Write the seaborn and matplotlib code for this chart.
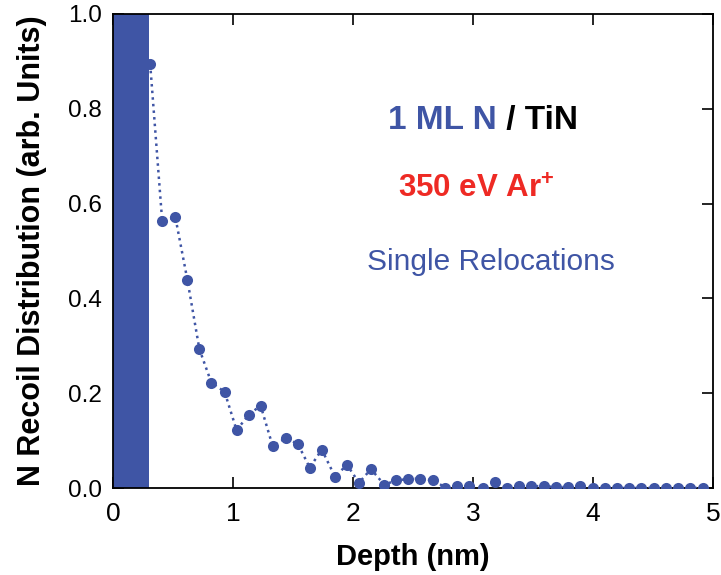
import matplotlib
matplotlib.use("Agg")
import matplotlib.pyplot as plt
import seaborn as sns
import pandas as pd

# Recoil depth grid (nm) and relocated-N distribution
depth = [0.31, 0.41, 0.52, 0.62, 0.72, 0.82, 0.93, 1.03, 1.13, 1.23,
         1.33, 1.44, 1.54, 1.64, 1.74, 1.85, 1.95, 2.05, 2.15, 2.26,
         2.36, 2.46, 2.56, 2.67, 2.77, 2.87, 2.97, 3.08, 3.18, 3.28,
         3.38, 3.48, 3.59, 3.69, 3.79, 3.89, 4.00, 4.10, 4.20, 4.30,
         4.40, 4.51, 4.61, 4.71, 4.81, 4.92]
recoil = [0.894, 0.563, 0.571, 0.439, 0.293, 0.222, 0.203, 0.122, 0.154, 0.174,
          0.089, 0.105, 0.093, 0.043, 0.081, 0.024, 0.049, 0.011, 0.040, 0.007,
          0.016, 0.019, 0.020, 0.016, 0.001, 0.004, 0.004, 0.001, 0.012, 0.000,
          0.004, 0.004, 0.004, 0.002, 0.002, 0.005, 0.000, 0.000, 0.000, 0.000,
          0.000, 0.000, 0.000, 0.000, 0.000, 0.000]

# Initial N monolayer (surface block)
layer_start = 0.0
layer_thickness = 0.30
layer_value = 1.0

x_ticks = [0, 1, 2, 3, 4, 5]
y_ticks = [0.0, 0.2, 0.4, 0.6, 0.8, 1.0]

BLUE = "#3F55A5"
RED = "#EE2A24"

sns.set_style("ticks")
plt.rcParams["font.family"] = ["Liberation Sans", "DejaVu Sans"]
plt.rcParams["mathtext.fontset"] = "custom"
plt.rcParams["mathtext.rm"] = "Liberation Sans"
plt.rcParams["mathtext.bf"] = "Liberation Sans:bold"

fig = plt.figure(figsize=(7.21, 5.75), dpi=100)
ax = fig.add_axes([0.1567, 0.1513, 0.8322, 0.8244])

ax.bar([layer_start], [layer_value], width=layer_thickness, align="edge",
       color=BLUE, edgecolor=BLUE, linewidth=0, zorder=2)

df = pd.DataFrame({"Depth": depth, "Recoil": recoil})
sns.lineplot(data=df, x="Depth", y="Recoil", ax=ax, color=BLUE,
             linestyle=":", linewidth=1.8, marker="o", markersize=8,
             markeredgewidth=0, zorder=3, clip_on=True)

ax.set_xlim(0, 5)
ax.set_ylim(0, 1.0)
ax.set_xticks(x_ticks)
ax.set_yticks(y_ticks)
ax.set_xticklabels([str(t) for t in x_ticks])
ax.set_yticklabels([f"{t:.1f}" for t in y_ticks])
ax.tick_params(direction="in", length=8, width=1.2, top=True, right=True,
               colors="black", labelcolor="black")
ax.tick_params(axis="x", pad=10, labelsize=19)
ax.tick_params(axis="y", pad=8, labelsize=17.5)
for s in ax.spines.values():
    s.set_linewidth(1.3)
    s.set_color("black")
    s.set_visible(True)

ax.set_xlabel("Depth (nm)", fontsize=21, fontweight="bold", labelpad=12,
              color="black")
ax.set_ylabel("N Recoil Distribution (arb. Units)", fontsize=22,
              fontweight="bold", labelpad=15, color="black")

t1 = ax.text(0.458, 0.776, "1 ML N", transform=ax.transAxes, color=BLUE,
             fontsize=24, fontweight="bold", ha="left", va="center")
ax.annotate(" / TiN", xycoords=t1, xy=(1, 0.5), va="center", ha="left",
            color="black", fontsize=24, fontweight="bold")
ax.text(0.605, 0.629, r"350 eV Ar$^{\mathbf{+}}$", transform=ax.transAxes,
        color=RED, fontsize=22.5, fontweight="bold", ha="center", va="center")
ax.text(0.63, 0.477, "Single Relocations", transform=ax.transAxes,
        color=BLUE, fontsize=21.5, ha="center", va="center")

fig.savefig("out.png", dpi=100)
